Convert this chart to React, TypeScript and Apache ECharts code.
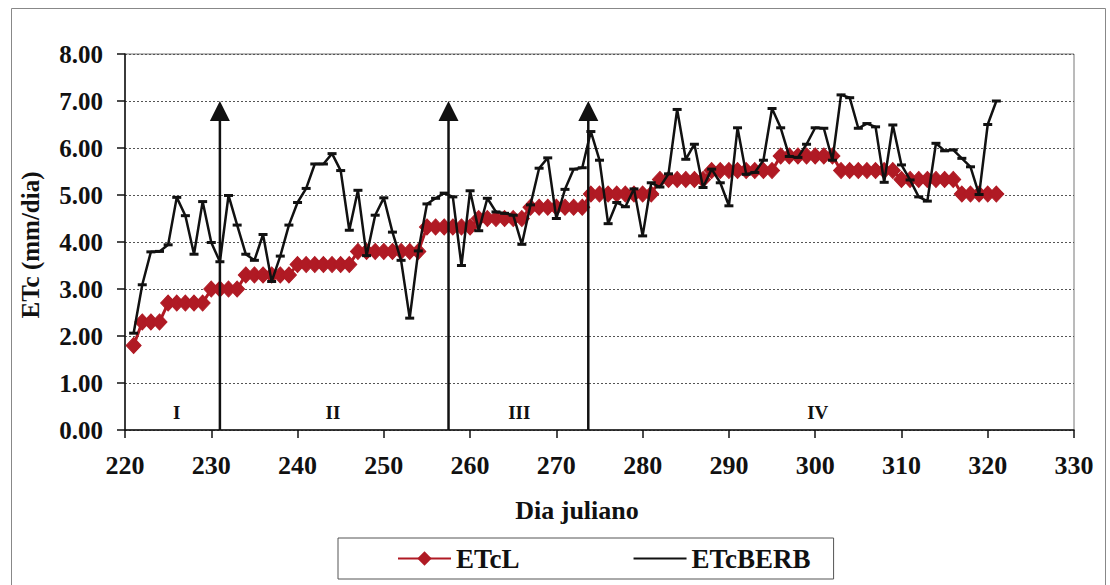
import React, { useEffect, useRef } from "react";
import * as echarts from "echarts";

// Julian day of the first observation; one value per day after it
const firstDay = 221;

// Crop evapotranspiration from the crop coefficient method (mm/day)
const etcL = [
  1.8,
  2.3, 2.3, 2.3,
  2.7, 2.7, 2.7, 2.7, 2.7,
  3.0, 3.0, 3.0, 3.0,
  3.3, 3.3, 3.3, 3.3, 3.3, 3.3,
  3.52, 3.52, 3.52, 3.52, 3.52, 3.52, 3.52,
  3.8, 3.8, 3.8, 3.8, 3.8, 3.8, 3.8, 3.8,
  4.32, 4.32, 4.32, 4.32, 4.32, 4.32,
  4.5, 4.5, 4.5, 4.5, 4.5, 4.5,
  4.74, 4.74, 4.74, 4.74, 4.74, 4.74, 4.74,
  5.02, 5.02, 5.02, 5.02, 5.02, 5.02, 5.02, 5.02,
  5.33, 5.33, 5.33, 5.33, 5.33, 5.33,
  5.52, 5.52, 5.52, 5.52, 5.52, 5.52, 5.52, 5.52,
  5.83, 5.83, 5.83, 5.83, 5.83, 5.83, 5.83,
  5.52, 5.52, 5.52, 5.52, 5.52, 5.52, 5.52,
  5.33, 5.33, 5.33, 5.33, 5.33, 5.33, 5.33,
  5.02, 5.02, 5.02, 5.02, 5.02,
];

// Crop evapotranspiration estimated with the BERB method (mm/day)
const etcBERB = [
  2.06, 3.09, 3.79, 3.8, 3.94, 4.95, 4.56, 3.74, 4.86, 3.99,
  3.58, 4.99, 4.36, 3.74, 3.61, 4.16, 3.16, 3.7, 4.36, 4.84,
  5.14, 5.66, 5.66, 5.88, 5.52, 4.25, 5.1, 3.71, 4.57, 4.94,
  4.21, 3.61, 2.38, 3.81, 4.81, 4.93, 5.04, 4.96, 3.5, 5.09,
  4.24, 4.93, 4.64, 4.61, 4.57, 3.95, 4.79, 5.57, 5.79, 4.5,
  5.12, 5.55, 5.58, 6.35, 5.74, 4.39, 4.84, 4.75, 5.13, 4.13,
  5.26, 5.17, 5.45, 6.82, 5.76, 6.08, 5.16, 5.55, 5.26, 4.77,
  6.43, 5.44, 5.48, 5.74, 6.84, 6.43, 5.82, 5.8, 6.08, 6.43,
  6.42, 5.74, 7.13, 7.07, 6.42, 6.52, 6.45, 5.27, 6.49, 5.64,
  5.32, 4.96, 4.87, 6.1, 5.94, 5.96, 5.78, 5.6, 5.01, 6.5,
  7.0,
];

// Axis ranges
const xMin = 220;
const xMax = 330;
const xStep = 10;
const yMin = 0;
const yMax = 8;
const yStep = 1;

// Boundaries between crop stages, drawn as arrows up to arrowTop
const stageBoundaries = [231, 257.5, 273.7];
const arrowTop = 7;

// Crop stage names and where they are written
const stageNames = ["I", "II", "III", "IV"];
const stageNameDays = [226, 244.1, 265.7, 300.3];
const stageNameLevel = 0.38;

const FONT = "'Liberation Serif', 'Times New Roman', serif";
const RED = "#b01a24";
const INK = "#111111";

export default function App() {
  const ref = useRef<HTMLDivElement | null>(null);

  useEffect(() => {
    if (!ref.current) return;
    const chart = echarts.init(ref.current, null, { renderer: "svg" });

    const toPairs = (values: number[]) =>
      values.map((v, i) => [firstDay + i, v]);

    const option: any = {
      animation: false,
      backgroundColor: "#ffffff",
      grid: {
        left: 125,
        right: 36,
        top: 54,
        bottom: 155,
        show: true,
        borderColor: "#777777",
        borderWidth: 1,
        backgroundColor: "transparent",
      },
      xAxis: {
        type: "value",
        min: xMin,
        max: xMax,
        interval: xStep,
        axisLine: { show: true, lineStyle: { color: INK, width: 1.5 } },
        axisTick: { show: true, length: 8, lineStyle: { color: INK, width: 1.5 } },
        axisLabel: {
          margin: 22,
          color: INK,
          fontFamily: FONT,
          fontWeight: "bold",
          fontSize: 26,
        },
        splitLine: { show: false },
      },
      yAxis: {
        type: "value",
        min: yMin,
        max: yMax,
        interval: yStep,
        axisLine: { show: true, lineStyle: { color: INK, width: 1.5 } },
        axisTick: { show: true, length: 8, lineStyle: { color: INK, width: 1.5 } },
        axisLabel: {
          margin: 22,
          color: INK,
          fontFamily: FONT,
          fontWeight: "bold",
          fontSize: 25,
          formatter: (v: number) => v.toFixed(2),
        },
        splitLine: {
          show: true,
          lineStyle: { color: "#555555", width: 1, type: [2, 2] },
        },
      },
      legend: {
        data: [
          { name: "ETcL" },
          { name: "ETcBERB", itemStyle: { opacity: 0 } },
        ],
        left: 338,
        top: 538,
        orient: "horizontal",
        padding: [7, 23, 7, 59],
        itemGap: 113,
        itemWidth: 53,
        itemHeight: 18,
        borderColor: "#555555",
        borderWidth: 1,
        textStyle: {
          color: INK,
          fontFamily: FONT,
          fontWeight: "bold",
          fontSize: 27,
        },
      },
      graphic: [
        {
          type: "rect",
          shape: { x: 11.5, y: 8.5, width: 1094, height: 600 },
          style: { fill: "none", stroke: "#888888", lineWidth: 1 },
          silent: true,
        },
        {
          type: "text",
          x: 577,
          y: 510,
          style: {
            text: "Dia juliano",
            align: "center",
            verticalAlign: "middle",
            fill: INK,
            font: `bold 26px ${FONT}`,
          },
        },
        {
          type: "text",
          x: 30,
          y: 245,
          rotation: Math.PI / 2,
          style: {
            text: "ETc (mm/dia)",
            align: "center",
            verticalAlign: "middle",
            fill: INK,
            font: `bold 25px ${FONT}`,
          },
        },
      ],
      series: [
        {
          name: "ETcL",
          type: "line",
          data: toPairs(etcL),
          symbol: "diamond",
          symbolSize: [15, 16],
          showAllSymbol: true,
          lineStyle: { color: RED, width: 3 },
          itemStyle: { color: RED, borderColor: RED },
          z: 2,
        },
        {
          name: "ETcBERB",
          type: "line",
          data: toPairs(etcBERB),
          symbol: "rect",
          symbolSize: [9, 3],
          showAllSymbol: true,
          lineStyle: { color: INK, width: 2.5 },
          itemStyle: { color: INK },
          z: 3,
        },
        {
          type: "custom",
          silent: true,
          z: 5,
          data: stageBoundaries.map((d) => [d, arrowTop]),
          renderItem: (_params: any, api: any) => {
            const base = api.coord([api.value(0), 0]);
            const tip = api.coord([api.value(0), api.value(1)]);
            const headH = 20;
            const headW = 10;
            return {
              type: "group",
              children: [
                {
                  type: "line",
                  shape: { x1: base[0], y1: base[1], x2: tip[0], y2: tip[1] + headH },
                  style: { stroke: INK, lineWidth: 2.5 },
                },
                {
                  type: "polygon",
                  shape: {
                    points: [
                      [tip[0], tip[1]],
                      [tip[0] - headW, tip[1] + headH],
                      [tip[0] + headW, tip[1] + headH],
                    ],
                  },
                  style: { fill: INK },
                },
              ],
            };
          },
        },
        {
          type: "custom",
          silent: true,
          z: 5,
          data: stageNameDays.map((d) => [d, stageNameLevel]),
          renderItem: (params: any, api: any) => {
            const p = api.coord([api.value(0), api.value(1)]);
            return {
              type: "text",
              x: p[0],
              y: p[1],
              style: {
                text: stageNames[params.dataIndex],
                align: "center",
                verticalAlign: "middle",
                fill: INK,
                font: `bold 19px ${FONT}`,
              },
            };
          },
        },
      ],
    };

    chart.setOption(option);
    return () => chart.dispose();
  }, []);

  return (
    <div
      ref={ref}
      style={{ position: "fixed", left: 0, top: 0, width: 1110, height: 585, background: "#fff" }}
    />
  );
}
